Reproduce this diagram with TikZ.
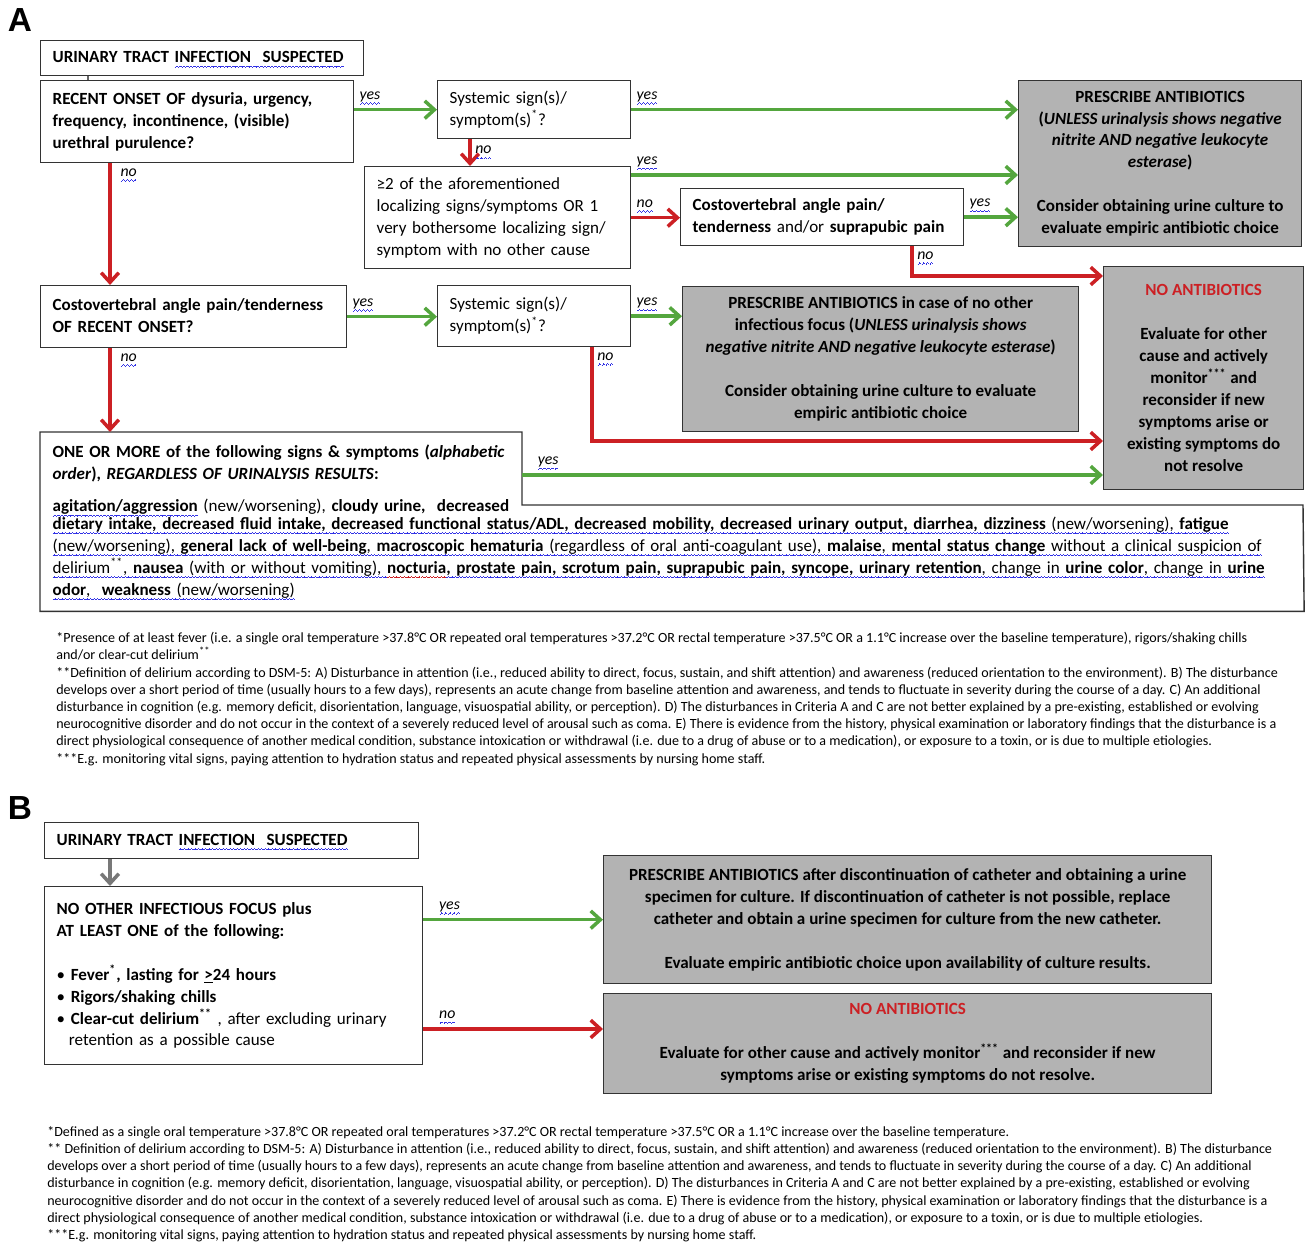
\documentclass[tikz,border=0pt]{standalone}
\usepackage{fontspec}
\setmainfont{Carlito}
\newfontfamily\panelfont{Liberation Sans}
\usetikzlibrary{arrows.meta}

\definecolor{yesgreen}{RGB}{84,166,62}
\definecolor{nored}{RGB}{204,32,36}
\definecolor{boxgray}{RGB}{179,179,179}
\definecolor{wavyblue}{RGB}{50,50,230}
\definecolor{arrowgray}{RGB}{120,120,120}

\newcommand{\bx}{\fontsize{9.7}{12.5}\selectfont}
\newcommand{\fn}{\fontsize{8}{9.8}\selectfont}
\newcommand{\skipline}{\\[12.5pt]}
\newcommand{\lines}[1]{\begin{tabular}{@{}l@{}}#1\end{tabular}}

% wavy spell-check underline, built from small rules
\newsavebox{\wavebox}
\newcommand{\wavy}[2]{\leavevmode\sbox{\wavebox}{#2}\rlap{\textcolor{#1}{\hbox to \wd\wavebox{\xleaders\hbox{\rule[-2.9pt]{0.5pt}{0.45pt}\rule[-2.55pt]{0.5pt}{0.45pt}\rule[-2.2pt]{0.5pt}{0.45pt}\rule[-2.55pt]{0.5pt}{0.45pt}}\hfill}}}\usebox{\wavebox}}
\newcommand{\bw}[1]{\wavy{wavyblue}{#1}}
\newcommand{\rw}[1]{\wavy{nored}{#1}}

\begin{document}
\begin{tikzpicture}[x=0.02cm, y=-0.02cm,
  qbox/.style={draw=black!80, line width=0.8pt, anchor=north west, inner xsep=0.24cm, inner ysep=0pt, align=left, font=\bx},
  gbox/.style={qbox, fill=boxgray, align=center, font=\bx\bfseries},
  yesarr/.style={draw=yesgreen, line width=2pt, -{Straight Barb[length=5.5pt,width=10pt]}},
  noarr/.style={yesarr, draw=nored},
  lab/.style={font=\fontsize{9}{10}\selectfont\itshape, inner sep=2pt},
  fnote/.style={anchor=north west, align=left, font=\fn, inner sep=0pt},
  panel/.style={font=\panelfont\bfseries\fontsize{19}{19}\selectfont, inner sep=0pt}]

\useasboundingbox (0,0) rectangle (1306,1243);
\fill[white] (0,0) rectangle (1306,1243);

% panel A
\node (labA) [panel] at (20,20) {A};
\node (uti1) [qbox, text width=5.98cm, minimum height=0.70cm] at (40,40) {\lines{\textbf{URINARY TRACT \bw{INFECTION\ \ SUSPECTED}}}};
\node (onset) [qbox, text width=5.78cm, minimum height=1.64cm] at (40,80) {\lines{\textbf{RECENT ONSET OF dysuria, urgency,}\\\textbf{frequency, incontinence, (visible)}\\\textbf{urethral purulence?}}};
\node (sys1) [qbox, text width=3.38cm, minimum height=1.16cm] at (437,80) {\lines{Systemic sign(s)/\\symptom(s)\textsuperscript{*}?}};
\node (two) [qbox, text width=4.84cm, minimum height=2.04cm] at (364,166) {\lines{≥2 of the aforementioned\\localizing signs/symptoms OR 1\\very bothersome localizing sign/\\symptom with no other cause}};
\node (cva1) [qbox, text width=5.18cm, minimum height=1.14cm] at (680,188) {\lines{\textbf{Costovertebral angle pain/}\\\textbf{tenderness} and/or \textbf{suprapubic pain}}};
\node (presc1) [gbox, minimum width=5.66cm, minimum height=3.32cm] at (1018,80) {PRESCRIBE ANTIBIOTICS\\(\textit{UNLESS urinalysis shows negative}\\\textit{nitrite AND negative leukocyte}\\\textit{esterase})\skipline Consider obtaining urine culture to\\evaluate empiric antibiotic choice};
\node (cva2) [qbox, text width=5.64cm, minimum height=1.24cm] at (40,285) {\lines{\textbf{Costovertebral angle pain/tenderness}\\\textbf{OF RECENT ONSET?}}};
\node (sys2) [qbox, text width=3.38cm, minimum height=1.22cm] at (437,285) {\lines{Systemic sign(s)/\\symptom(s)\textsuperscript{*}?}};
\node (presc2) [gbox, minimum width=7.92cm, minimum height=2.90cm] at (682,286) {PRESCRIBE ANTIBIOTICS in case of no other\\infectious focus (\textit{UNLESS urinalysis shows}\\\textit{negative nitrite AND negative leukocyte esterase})\skipline Consider obtaining urine culture to evaluate\\empiric antibiotic choice};
\node (noab) [gbox, minimum width=4.0cm, minimum height=4.46cm] at (1103,266) {\textcolor{nored}{NO ANTIBIOTICS}\skipline Evaluate for other\\cause and actively\\monitor\textsuperscript{***} and\\reconsider if new\\symptoms arise or\\existing symptoms do\\not resolve};
\node (signs) [qbox, draw=none, text width=24.78cm, minimum height=3.56cm] at (40,432) {\lines{\textbf{ONE OR MORE of the following signs \& symptoms (\textit{alphabetic}}\\\textbf{\textit{order}), \textit{REGARDLESS OF URINALYSIS RESULTS}:}\\[6pt]
\bw{\textbf{agitation/aggression}} (new/worsening), \textbf{cloudy urine,\ \ decreased}\\[-2.5pt]
\bw{\textbf{dietary intake, decreased fluid intake, decreased functional status/ADL, decreased mobility, decreased urinary output, diarrhea, dizziness} (new/worsening), \textbf{fatigue}}\\
\bw{(new/worsening), \textbf{general lack of well-being}, \textbf{macroscopic hematuria} (regardless of oral anti-coagulant use), \textbf{malaise}, \textbf{mental status change} without a clinical suspicion of}\\
\bw{delirium\textsuperscript{**}, \textbf{nausea} (with or without vomiting), }\rw{\textbf{nocturia}}\bw{\textbf{, prostate pain, scrotum pain, suprapubic pain, syncope, urinary retention}, change in \textbf{urine color}, change in \textbf{urine}}\\
\bw{\textbf{odor},\ \ \textbf{weakness} (new/worsening)}}};
\draw[black!80, line width=0.8pt] (signs.north west) -- (522,432) -- (522,505) -- (1303,505) -- (signs.south east) -- (signs.south west) -- cycle;

\coordinate (xa) at (110,0);
\coordinate (xt) at (88,0);
\coordinate (xs) at (470,0);
\coordinate (xc) at (912,0);
\coordinate (xd) at (592,0);
\coordinate (ya) at (0,175);
\coordinate (yb) at (0,276);
\coordinate (yc) at (0,441);
\coordinate (sR) at (522,475);

\draw[black!60, line width=0.6pt] (uti1.south -| xt) -- (onset.north -| xt);
\draw[yesarr] (onset.east |- sys1.west) -- node[lab, pos=0, above right] {\bw{yes}} (sys1.west);
\draw[yesarr] (sys1.east) -- node[lab, pos=0, above right] {\bw{yes}} (sys1.east -| presc1.west);
\draw[noarr] (sys1.south -| xs) -- node[lab, right] {\bw{no}} (two.north -| xs);
\draw[yesarr] (two.east |- ya) -- node[lab, pos=0, above right] {\bw{yes}} (presc1.west |- ya);
\draw[noarr] (two.east) -- node[lab, pos=0, above right] {\bw{no}} (two.east -| cva1.west);
\draw[yesarr] (cva1.east) -- node[lab, pos=0, above right] {\bw{yes}} (cva1.east -| presc1.west);
\draw[noarr] (cva1.south -| xc) node[lab, below right] {\bw{no}} |- (noab.west |- yb);
\draw[noarr] (onset.south -| xa) -- node[lab, pos=0, below right, xshift=3pt] {\bw{no}} (cva2.north -| xa);
\draw[yesarr] (cva2.east) -- node[lab, pos=0, above right] {\bw{yes}} (cva2.east -| sys2.west);
\draw[yesarr] (sys2.east) -- node[lab, pos=0, above right] {\bw{yes}} (sys2.east -| presc2.west);
\draw[noarr] (sys2.south -| xd) node[lab, below right] {\bw{no}} |- (noab.west |- yc);
\draw[noarr] (cva2.south -| xa) -- node[lab, pos=0, below right, xshift=3pt] {\bw{no}} (signs.north -| xa);
\draw[yesarr] (sR) -- node[lab, pos=0, above right, xshift=6pt] {\bw{yes}} (sR -| noab.west);

\node (fnA) [fnote] at (56,632) {*Presence of at least fever (i.e. a single oral temperature >37.8°C OR repeated oral temperatures >37.2°C OR rectal temperature >37.5°C OR a 1.1°C increase over the baseline temperature), rigors/shaking chills\\
and/or clear-cut delirium\textsuperscript{**}\\
**Definition of delirium according to DSM-5: A) Disturbance in attention (i.e., reduced ability to direct, focus, sustain, and shift attention) and awareness (reduced orientation to the environment). B) The disturbance\\
develops over a short period of time (usually hours to a few days), represents an acute change from baseline attention and awareness, and tends to fluctuate in severity during the course of a day. C) An additional\\
disturbance in cognition (e.g. memory deficit, disorientation, language, visuospatial ability, or perception). D) The disturbances in Criteria A and C are not better explained by a pre-existing, established or evolving\\
neurocognitive disorder and do not occur in the context of a severely reduced level of arousal such as coma. E) There is evidence from the history, physical examination or laboratory findings that the disturbance is a\\
direct physiological consequence of another medical condition, substance intoxication or withdrawal (i.e. due to a drug of abuse or to a medication), or exposure to a toxin, or is due to multiple etiologies.\\
***E.g. monitoring vital signs, paying attention to hydration status and repeated physical assessments by nursing home staff.};

% panel B
\node (labB) [panel] at (20,808) {B};
\node (uti2) [qbox, text width=7.0cm, minimum height=0.72cm] at (44,822) {\lines{\textbf{URINARY TRACT \bw{INFECTION\ \ SUSPECTED}}}};
\node (focus) [qbox, text width=7.08cm, minimum height=3.56cm] at (44,886) {\lines{\textbf{NO OTHER INFECTIOUS FOCUS plus}\\\textbf{AT LEAST ONE of the following:}\skipline
\textbullet\ \textbf{Fever\textsuperscript{*}, lasting for \underline{>}24 hours}\\
\textbullet\ \textbf{Rigors/shaking chills}\\
\textbullet\ \textbf{Clear-cut delirium\textsuperscript{**}} , after excluding urinary\\
\hspace*{7pt}retention as a possible cause}};
\node (presc3) [gbox, minimum width=12.16cm, minimum height=2.56cm] at (603,855) {PRESCRIBE ANTIBIOTICS after discontinuation of catheter and obtaining a urine\\specimen for culture. If discontinuation of catheter is not possible, replace\\catheter and obtain a urine specimen for culture from the new catheter.\skipline Evaluate empiric antibiotic choice upon availability of culture results.};
\node (noab2) [gbox, minimum width=12.16cm, minimum height=2.0cm] at (603,993) {\textcolor{nored}{NO ANTIBIOTICS}\skipline Evaluate for other cause and actively monitor\textsuperscript{***} and reconsider if new\\symptoms arise or existing symptoms do not resolve.};

\coordinate (yd) at (0,1029);
\draw[arrowgray, line width=2pt, -{Straight Barb[length=5.5pt,width=10pt]}] (uti2.south -| xa) -- (focus.north -| xa);
\draw[yesarr] (focus.east |- presc3.west) -- node[lab, pos=0, above right, xshift=6pt] {\bw{yes}} (presc3.west);
\draw[noarr] (focus.east |- yd) -- node[lab, pos=0, above right, xshift=6pt] {\bw{no}} (noab2.west |- yd);

\node (fnB) [fnote] at (47,1126) {*Defined as a single oral temperature >37.8°C OR repeated oral temperatures >37.2°C OR rectal temperature >37.5°C OR a 1.1°C increase over the baseline temperature.\\
** Definition of delirium according to DSM-5: A) Disturbance in attention (i.e., reduced ability to direct, focus, sustain, and shift attention) and awareness (reduced orientation to the environment). B) The disturbance\\
develops over a short period of time (usually hours to a few days), represents an acute change from baseline attention and awareness, and tends to fluctuate in severity during the course of a day. C) An additional\\
disturbance in cognition (e.g. memory deficit, disorientation, language, visuospatial ability, or perception). D) The disturbances in Criteria A and C are not better explained by a pre-existing, established or evolving\\
neurocognitive disorder and do not occur in the context of a severely reduced level of arousal such as coma. E) There is evidence from the history, physical examination or laboratory findings that the disturbance is a\\
direct physiological consequence of another medical condition, substance intoxication or withdrawal (i.e. due to a drug of abuse or to a medication), or exposure to a toxin, or is due to multiple etiologies.\\
***E.g. monitoring vital signs, paying attention to hydration status and repeated physical assessments by nursing home staff.};
\end{tikzpicture}
\end{document}
